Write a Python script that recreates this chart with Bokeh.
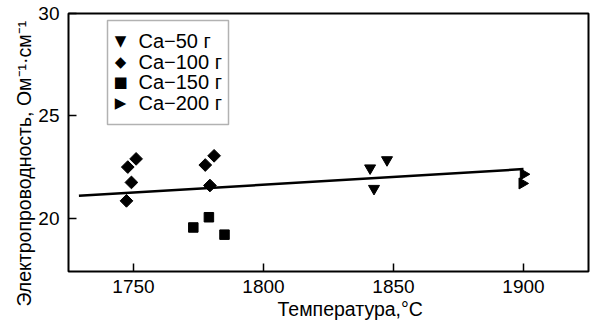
import math
from bokeh.plotting import figure
from bokeh.models import FixedTicker, Range1d, Label, BoxAnnotation, Title
from bokeh.embed import file_html
from bokeh.resources import INLINE

# Data
ca50_t = [1841, 1847.5, 1842.5]
ca50_s = [22.45, 22.85, 21.45]
ca100_t = [1747.3, 1749.2, 1747.8, 1751.0, 1777.6, 1781.0, 1779.4]
ca100_s = [20.85, 21.75, 22.5, 22.9, 22.6, 23.05, 21.6]
ca150_t = [1773.0, 1779.0, 1785.0]
ca150_s = [19.55, 20.05, 19.2]
ca200_t = [1900.0, 1899.5]
ca200_s = [22.15, 21.7]
fit_t = [1729, 1900]
fit_s = [21.1, 22.4]

x_ticks = [1750, 1800, 1850, 1900]
y_ticks = [20, 25, 30]
legend_labels = ["Ca−50 г", "Ca−100 г", "Ca−150 г", "Ca−200 г"]
legend_symbols = ["▼", "◆", "■", "▶"]
x_title = "Температура,°C"
y_title = "Электропроводность, Ом⁻¹·см⁻¹"

FONT = "Liberation Sans"

p = figure(width=590, height=326, output_backend="svg", toolbar_location=None,
           x_range=Range1d(1725, 1925), y_range=Range1d(17.4, 30.0),
           min_border_left=68, min_border_right=2, min_border_top=13, min_border_bottom=55)
p.grid.visible = False
p.outline_line_color = "black"
p.outline_line_width = 2

for ax in (p.xaxis[0], p.yaxis[0]):
    ax.axis_line_color = None
    ax.major_tick_in = 8
    ax.major_tick_out = 0
    ax.major_tick_line_width = 1.5
    ax.minor_tick_line_color = None
    ax.major_label_text_font = FONT
    ax.major_label_text_font_size = "19px"
    ax.major_label_text_color = "black"

p.xaxis.ticker = FixedTicker(ticks=x_ticks)
p.yaxis.ticker = FixedTicker(ticks=y_ticks)
p.xaxis.major_label_standoff = 8
p.yaxis.major_label_standoff = 9

# axis titles as side titles so they can be shifted along the axis
p.add_layout(Title(text=x_title, align="left", offset=209, standoff=1,
                   text_font=FONT, text_font_size="19.5px", text_font_style="normal",
                   text_color="black"), "below")
p.add_layout(Title(text=y_title, align="left", offset=-35, standoff=2,
                   text_font=FONT, text_font_size="19.5px", text_font_style="normal",
                   text_color="black"), "left")

p.line(fit_t, fit_s, line_color="black", line_width=2.5)

p.scatter(ca50_t, ca50_s, marker="inverted_triangle", size=11, color="black")
p.scatter(ca100_t, ca100_s, marker="square", angle=math.pi / 4, size=9, color="black")
p.scatter(ca150_t, ca150_s, marker="square", size=9.5, color="black")
p.scatter(ca200_t, ca200_s, marker="triangle", angle=-math.pi / 2, size=11, color="black")

# legend box and entries
p.add_layout(BoxAnnotation(left=39, right=160, top=251, bottom=147,
                           left_units="screen", right_units="screen",
                           top_units="screen", bottom_units="screen",
                           fill_alpha=0, line_color="black", line_width=1.5))
row_y = [231, 210, 189.5, 168.5]
for sym, lab, yy in zip(legend_symbols, legend_labels, row_y):
    p.add_layout(Label(x=52, y=yy, x_units="screen", y_units="screen", text=sym,
                       text_align="center", text_baseline="middle",
                       text_font="DejaVu Sans", text_font_size="15px", text_color="black"))
    p.add_layout(Label(x=70, y=yy, x_units="screen", y_units="screen", text=lab,
                       text_align="left", text_baseline="middle",
                       text_font=FONT, text_font_size="20px", text_color="black"))

open("out.html", "w").write(file_html(p, INLINE))
